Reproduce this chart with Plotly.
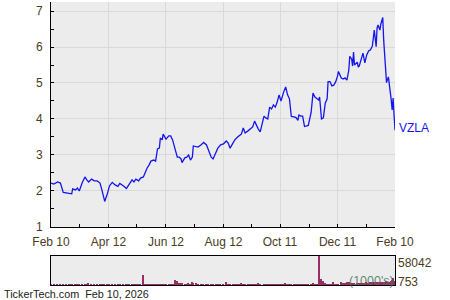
import plotly.graph_objects as go

dates = [
    "2025-02-10", "2025-02-13", "2025-02-17", "2025-02-20", "2025-02-23", "2025-02-26",
    "2025-03-01", "2025-03-04", "2025-03-05", "2025-03-08", "2025-03-10", "2025-03-12", "2025-03-15",
    "2025-03-18", "2025-03-20", "2025-03-22", "2025-03-25", "2025-03-28", "2025-03-31",
    "2025-04-03", "2025-04-05", "2025-04-07", "2025-04-08", "2025-04-11", "2025-04-13", "2025-04-16",
    "2025-04-19", "2025-04-22", "2025-04-24", "2025-04-28",
    "2025-05-01", "2025-05-02", "2025-05-04", "2025-05-07", "2025-05-09", "2025-05-11", "2025-05-14",
    "2025-05-16", "2025-05-19", "2025-05-21", "2025-05-23", "2025-05-25", "2025-05-27", "2025-05-30",
    "2025-06-01", "2025-06-03", "2025-06-05", "2025-06-06", "2025-06-08", "2025-06-09", "2025-06-11",
    "2025-06-12", "2025-06-15", "2025-06-17", "2025-06-19", "2025-06-20", "2025-06-22", "2025-06-24",
    "2025-06-26", "2025-06-28", "2025-06-29",
    "2025-07-02", "2025-07-04", "2025-07-06", "2025-07-08", "2025-07-10", "2025-07-11", "2025-07-14",
    "2025-07-16", "2025-07-19", "2025-07-22", "2025-07-25", "2025-07-27", "2025-07-30",
    "2025-08-01", "2025-08-04", "2025-08-06", "2025-08-09", "2025-08-12", "2025-08-15", "2025-08-17",
    "2025-08-19", "2025-08-22", "2025-08-24", "2025-08-27", "2025-08-29", "2025-08-31",
    "2025-09-02", "2025-09-04", "2025-09-07", "2025-09-09", "2025-09-12", "2025-09-14", "2025-09-16",
    "2025-09-18", "2025-09-20", "2025-09-24", "2025-09-26", "2025-09-28", "2025-09-30",
    "2025-10-02", "2025-10-04", "2025-10-06", "2025-10-08", "2025-10-10", "2025-10-12", "2025-10-14",
    "2025-10-15", "2025-10-17", "2025-10-19", "2025-10-21", "2025-10-23", "2025-10-26", "2025-10-28",
    "2025-10-30", "2025-10-31",
    "2025-11-02", "2025-11-04", "2025-11-06", "2025-11-08", "2025-11-10", "2025-11-13", "2025-11-15",
    "2025-11-17", "2025-11-19", "2025-11-21", "2025-11-22", "2025-11-24", "2025-11-26", "2025-11-28",
    "2025-11-30",
    "2025-12-01", "2025-12-03", "2025-12-05", "2025-12-07", "2025-12-09", "2025-12-11", "2025-12-12",
    "2025-12-15", "2025-12-17", "2025-12-19", "2025-12-21", "2025-12-23", "2025-12-24", "2025-12-26",
    "2025-12-27", "2025-12-28", "2025-12-29",
    "2026-01-01", "2026-01-02", "2026-01-03", "2026-01-05", "2026-01-07", "2026-01-09", "2026-01-11",
    "2026-01-13", "2026-01-15", "2026-01-17", "2026-01-19", "2026-01-21", "2026-01-22", "2026-01-23",
    "2026-01-25", "2026-01-26", "2026-01-28", "2026-01-29", "2026-01-30",
    "2026-02-01", "2026-02-03", "2026-02-05", "2026-02-06", "2026-02-07", "2026-02-08", "2026-02-09",
    "2026-02-10",
]

prices = [
    2.22, 2.19, 2.25, 2.22, 1.96, 1.94,
    1.93, 1.92, 2.06, 2.03, 2.08, 2.00, 2.22, 2.39, 2.31, 2.25, 2.33, 2.28, 2.28,
    2.22, 2.03, 1.83, 1.71, 1.94, 2.14, 2.24, 2.17, 2.13, 2.21, 2.14,
    2.07, 2.11, 2.19, 2.31, 2.25, 2.33, 2.28, 2.36, 2.39, 2.53, 2.64, 2.72, 2.83, 2.86,
    2.83, 3.17, 3.19, 3.47, 3.42, 3.58, 3.47, 3.44, 3.53, 3.53, 3.42, 3.33, 3.08, 2.94, 2.94, 2.89, 2.79,
    2.92, 2.94, 3.00, 2.86, 2.94, 3.25, 3.24, 3.22, 3.28, 3.35, 3.28, 3.14, 2.94,
    2.89, 3.08, 3.19, 3.28, 3.31, 3.39, 3.33, 3.19, 3.33, 3.42, 3.50, 3.53, 3.58,
    3.75, 3.61, 3.67, 3.72, 3.78, 3.94, 3.81, 3.72, 3.64, 4.08, 4.03, 4.00, 4.33,
    4.28, 4.39, 4.33, 4.47, 4.67, 4.50, 4.69, 4.76, 4.89, 4.67, 4.56, 4.07, 4.06, 4.04, 3.96, 4.11,
    4.08, 4.08, 3.79, 3.81, 3.82, 4.18, 4.72, 4.61, 4.56, 4.53, 4.61, 4.00, 4.03, 4.44, 4.56,
    5.04, 5.04, 4.92, 4.94, 5.03, 5.19, 5.32, 5.14, 5.11, 5.14, 5.08, 5.36, 5.74, 5.67, 5.47, 5.86, 5.50,
    5.58, 5.44, 5.47, 5.64, 5.83, 5.56, 5.78, 5.89, 5.92, 6.03, 6.47, 6.01, 6.53, 6.61, 6.47, 6.64,
    6.82, 6.19, 5.78,
    5.01, 5.17, 4.83, 4.53, 4.25, 4.58, 4.11, 3.69,
]

volumes = [
    1500, 1500, 2500, 1500, 2500, 1500,
    2000, 1500, 1500, 2000, 2000, 1500, 2000, 2000, 2000, 4600, 2500, 2000, 2000,
    2000, 2700, 2700, 2500, 1800, 1800, 1800, 1500, 753, 1000, 1000,
    1000, 1500, 1000, 1000, 1000, 1500, 1500, 2700, 20600, 1500, 1500, 1000, 1500, 1500,
    1500, 1500, 2700, 2700, 1500, 2700, 2700, 1800, 1800, 1800, 1800, 1800, 10700, 7300, 3300, 4600, 4600,
    2000, 2000, 3300, 2000, 6700, 4600, 4600, 2700, 2700, 2700, 2000, 2000, 1500,
    2700, 1500, 1500, 1500, 1500, 5300, 1500, 1500, 1500, 1500, 1500, 1500, 4000,
    1500, 1500, 1500, 1500, 1500, 1500, 1500, 4600, 2000, 2000, 2000, 2000, 2000,
    2000, 2000, 2000, 2000, 2000, 2000, 2000, 2000, 4000, 2000, 2000, 2000, 2000, 2000, 2000, 2000,
    2000, 2000, 2000, 2000, 2000, 2000, 4000, 2700, 2700, 2700, 58042, 12000, 7300, 4000, 2700,
    2700, 2700, 2700, 5300, 2700, 2700, 2700, 5300, 3300, 3300, 5300, 5300, 4000, 4000, 4000, 5000, 4000,
    4000, 4000, 4000, 5000, 5000, 5000, 6000, 5000, 6000, 6000, 7000, 6000, 6000, 6000, 7000, 6000,
    7000, 7000, 7000,
    8000, 7000, 7000, 8000, 10000, 15000, 8000, 7000,
]

x_range = ["2025-02-10", "2026-02-10"]
x_tick_vals = ["2025-02-10", "2025-04-12", "2025-06-12", "2025-08-12", "2025-10-11", "2025-12-11", "2026-02-10"]
x_tick_text = ["Feb 10", "Apr 12", "Jun 12", "Aug 12", "Oct 11", "Dec 11", "Feb 10"]
x_minor_vals = ["2025-03-12", "2025-05-12", "2025-07-12", "2025-09-11", "2025-11-11", "2026-01-11"]
y_tick_vals = [1, 2, 3, 4, 5, 6, 7]
ticker = "VZLA"
vol_high_label = "58042"
vol_low_label = "753"
vol_unit_label = "(1000's)"
footer = "TickerTech.com\u00a0\u00a0Feb 10, 2026"

TXT = "#4a3b1c"
FONT = "Liberation Sans, Arial, sans-serif"

fig = go.Figure()
fig.add_trace(go.Scatter(x=dates, y=prices, mode="lines",
                         line=dict(color="#1414ee", width=1.3),
                         xaxis="x", yaxis="y", hoverinfo="skip"))
fig.add_trace(go.Bar(x=dates, y=volumes, width=1.6 * 86400000,
                     marker=dict(color="#9b2d66", line=dict(width=0)),
                     xaxis="x2", yaxis="y2", hoverinfo="skip"))

fig.update_layout(
    width=450, height=300,
    margin=dict(l=51, r=55, t=2, b=15),
    paper_bgcolor="white", plot_bgcolor="#ececec",
    showlegend=False, bargap=0,
    font=dict(family=FONT, size=12, color=TXT),
    xaxis=dict(domain=[0, 1], anchor="y", range=x_range, type="date",
               tickmode="array", tickvals=x_tick_vals, ticktext=x_tick_text,
               ticks="inside", ticklen=3, tickcolor="black",
               showline=True, linecolor="black", linewidth=1,
               showgrid=True, gridcolor="#d9d9d9", gridwidth=1,
               zeroline=False, ticklabelstandoff=4,
               tickfont=dict(family=FONT, size=12, color=TXT),
               minor=dict(tickmode="array", tickvals=x_minor_vals, ticks="inside",
                          ticklen=3, tickcolor="black", showgrid=False)),
    yaxis=dict(domain=[0.205, 1], anchor="x", range=[1, 7.25],
               tickmode="array", tickvals=y_tick_vals,
               ticks="inside", ticklen=3, tickcolor="black",
               showline=True, linecolor="black", linewidth=1,
               showgrid=True, gridcolor="#d9d9d9", gridwidth=1,
               zeroline=False, ticklabelstandoff=5,
               tickfont=dict(family=FONT, size=12, color=TXT),
               minor=dict(tick0=1.5, dtick=1, ticks="inside", ticklen=3,
                          tickcolor="black", showgrid=False)),
    xaxis2=dict(domain=[0, 1], anchor="y2", range=x_range, type="date",
                showticklabels=False, ticks="", showgrid=False, zeroline=False,
                showline=True, mirror=True, linecolor="black", linewidth=1),
    yaxis2=dict(domain=[0, 0.1025], anchor="x2", range=[0, 58042],
                showticklabels=False, ticks="", showgrid=False, zeroline=False,
                showline=True, mirror=True, linecolor="black", linewidth=1),
    annotations=[
        dict(x=dates[-1], y=prices[-1], xref="x", yref="y", text=ticker,
             showarrow=False, xanchor="left", yanchor="middle", xshift=2, yshift=2,
             font=dict(family=FONT, size=12, color="#1414ee")),
        dict(x=1, y=0.0788, xref="paper", yref="paper", text=vol_high_label,
             showarrow=False, xanchor="left", yanchor="middle", xshift=1,
             font=dict(family=FONT, size=12, color=TXT)),
        dict(x=1, y=0.0117, xref="paper", yref="paper", text=vol_low_label,
             showarrow=False, xanchor="left", yanchor="middle", xshift=1,
             font=dict(family=FONT, size=12, color=TXT)),
        dict(x=1, y=0.014, xref="paper", yref="paper", text=vol_unit_label,
             showarrow=False, xanchor="right", yanchor="middle", xshift=1,
             font=dict(family=FONT, size=12.5, color="rgba(70,115,90,0.85)")),
        dict(x=-49 / 344, y=-0.033, xref="paper", yref="paper", text=footer,
             showarrow=False, xanchor="left", yanchor="middle",
             font=dict(family=FONT, size=10.8, color="#222222")),
    ],
)

fig.write_html("out.html")
